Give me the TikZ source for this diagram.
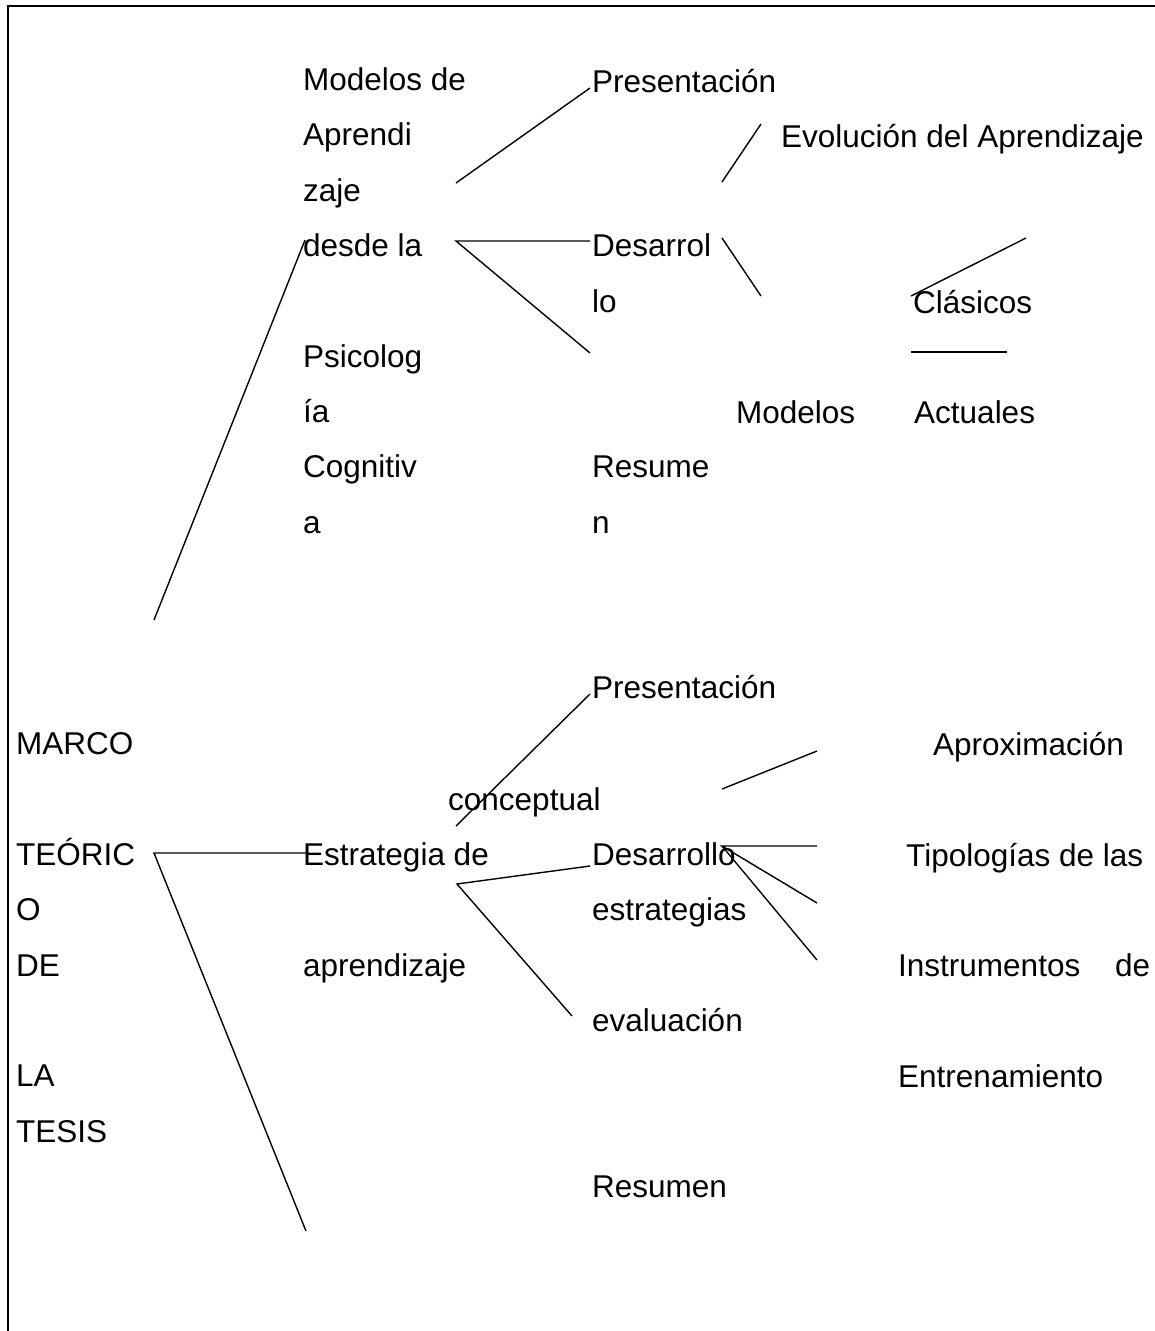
\documentclass[tikz,border=0pt]{standalone}
\usepackage{fontspec}
\setmainfont{Liberation Sans}
\usepackage{tikz}
\usetikzlibrary{positioning,calc}
\tikzset{txt/.style={anchor=base west,inner sep=0pt,align=left,
  font=\fontsize{31.5}{55.3}\selectfont},
  link/.style={line width=1.4pt,draw=black},
  frame/.style={line width=2.6pt,draw=black}}

\begin{document}
\begin{tikzpicture}[x=1pt,y=-1pt]
\useasboundingbox (0,0) rectangle (1155,1331);
\draw[frame] (8,1331) -- (8,6) -- (1155,6);
% first block (multi-line nodes sit on their last line)
\node[txt] (mod) at (303,533) {Modelos de\\Aprendi\\zaje\\desde la\\[55.3pt]Psicolog\\ía\\Cognitiv\\a};
\node[txt] (pres1) at (592,92) {Presentación};
\node[txt] (des1) at (592,312) {Desarrol\\lo};
\node[txt] (res1) at (592,533) {Resume\\n};
\node[txt] (evo) at (781,147) {Evolución del Aprendizaje};
\node[txt] (mods) at (736,423) {Modelos};
\node[txt] (clas) at (913,313) {Clásicos};
\node[txt] (act) at (914,423) {Actuales};
% second block
\node[txt] (marco) at (16,1142) {MARCO\\[55.3pt]TEÓRIC\\O\\DE\\[55.3pt]LA\\TESIS};
\node[txt] (estr) at (303,976) {Estrategia de\\[55.3pt]aprendizaje};
\node[txt] (conc) at (448,810) {conceptual};
\node[txt] (pres2) at (592,698) {Presentación};
\node[txt] (des2) at (592,1031) {Desarrollo\\estrategias\\[55.3pt]evaluación};
\node[txt] (res2) at (592,1197) {Resumen};
\node[txt] (apro) at (933,755) {Aproximación};
\node[txt] (tipo) at (906,866) {Tipologías de las};
\node[txt] (inst) at (898,976) {\makebox[252pt][s]{Instrumentos\hfill de}};
\node[txt] (entr) at (898,1087) {Entrenamiento};
% line ends
\coordinate (t0) at (154,620); \coordinate (t1) at (305,240);
\coordinate (a1) at (456,183); \coordinate (a2) at (590,88);
\coordinate (b1) at (456,241); \coordinate (b2) at (590,241);
\coordinate (b3) at (590,353);
\coordinate (c1) at (722,182); \coordinate (c2) at (761,124);
\coordinate (c3) at (722,238); \coordinate (c4) at (761,296);
\coordinate (d1) at (911,296); \coordinate (d2) at (1026,238);
\coordinate (d3) at (911,352); \coordinate (d4) at (1007,352);
\coordinate (m0) at (154,853); \coordinate (m1) at (306,853);
\coordinate (m2) at (306,1231);
\coordinate (e1) at (456,826); \coordinate (e2) at (590,694);
\coordinate (f1) at (457,884); \coordinate (f2) at (590,866);
\coordinate (f3) at (572,1016);
\coordinate (g1) at (722,789); \coordinate (g2) at (817,751);
\coordinate (h1) at (722,846); \coordinate (h2) at (817,846);
\coordinate (h3) at (817,903); \coordinate (h4) at (817,960);
\draw[link] (t0) -- (t1);
\draw[link] (a1) -- (a2);
\draw[link] (b2) -- (b1) -- (b3);
\draw[link] (c1) -- (c2);
\draw[link] (c3) -- (c4);
\draw[link] (d1) -- (d2);
\draw[link] (d3) -- (d4);
\draw[link] (m1) -- (m0) -- (m2);
\draw[link] (e1) -- (e2);
\draw[link] (f2) -- (f1) -- (f3);
\draw[link] (g1) -- (g2);
\draw[link] (h2) -- (h1) -- (h3);
\draw[link] (h1) -- (h4);
\end{tikzpicture}
\end{document}
